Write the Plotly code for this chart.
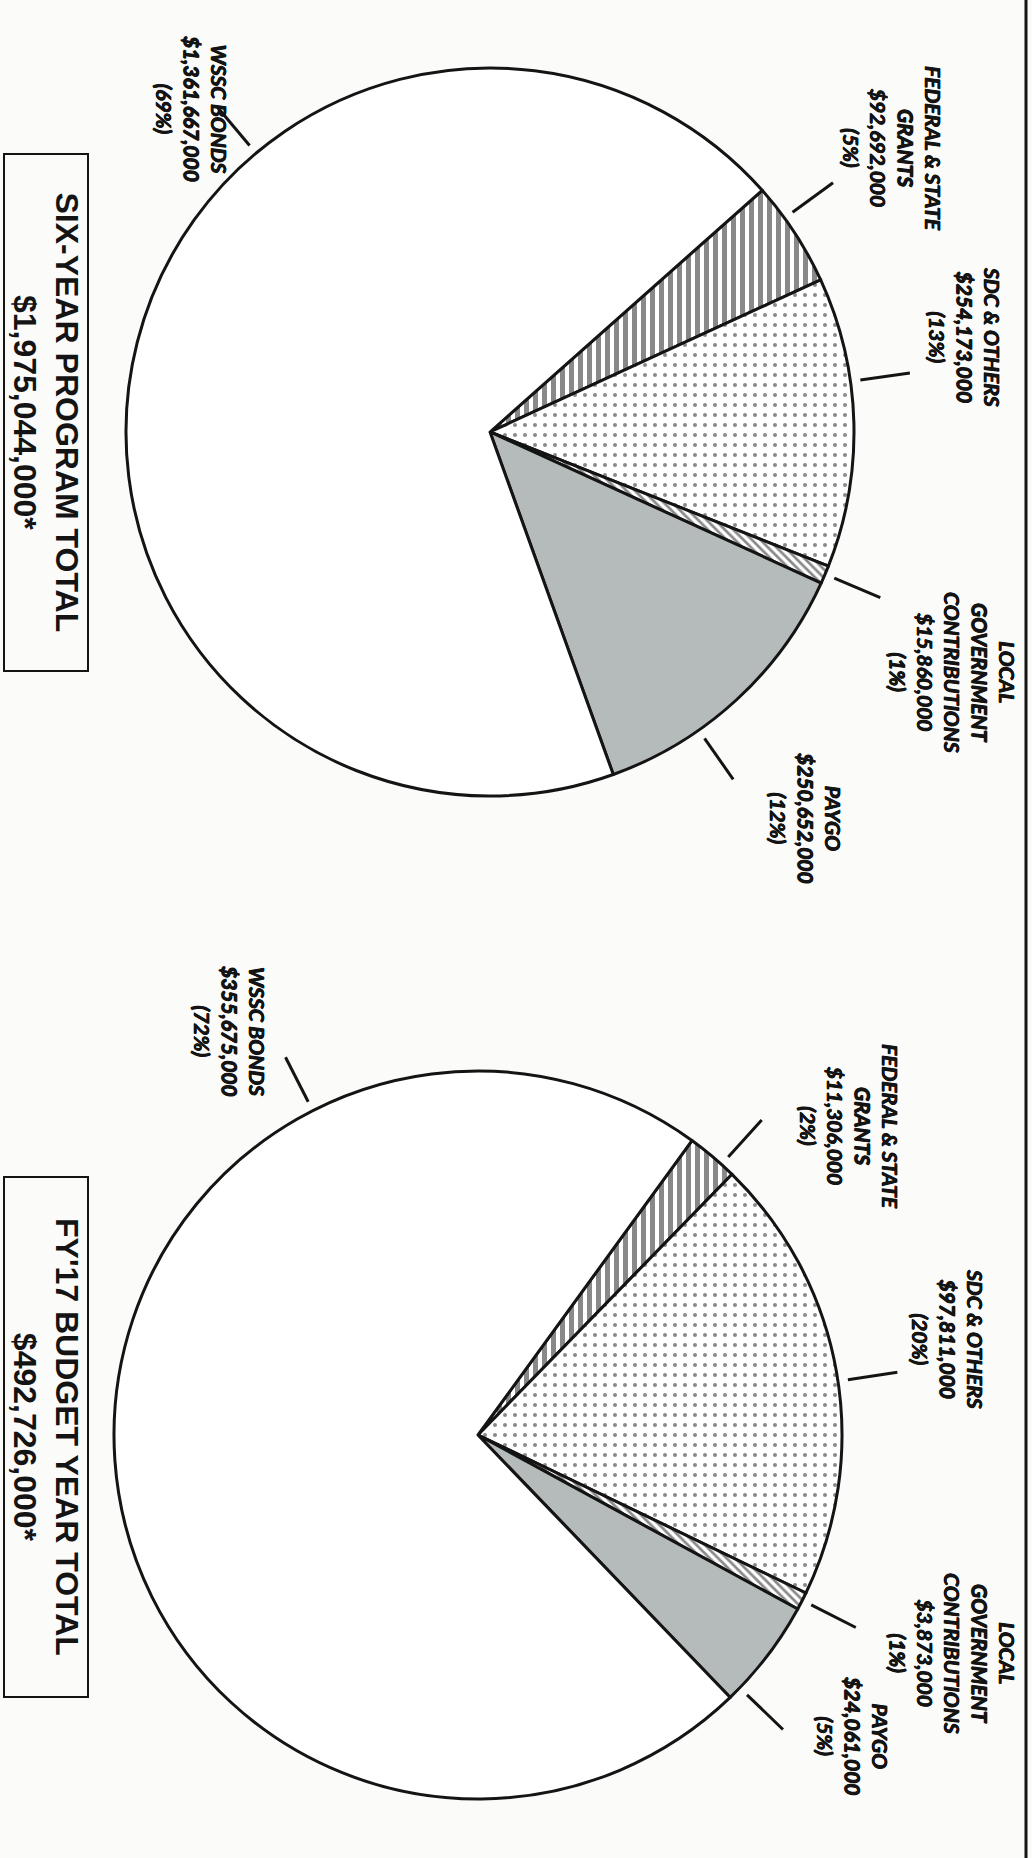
import math
import plotly.graph_objects as go

W, H = 1032, 1858

# Funding sources, listed clockwise starting with the grants wedge
sources = ["FEDERAL & STATE GRANTS", "SDC & OTHERS", "LOCAL GOVERNMENT CONTRIBUTIONS", "PAYGO", "WSSC BONDS"]
source_lines = ["FEDERAL & STATE<br>GRANTS", "SDC & OTHERS", "LOCAL<br>GOVERNMENT<br>CONTRIBUTIONS", "PAYGO", "WSSC BONDS"]

six_year_values = [92692000, 254173000, 15860000, 250652000, 1361667000]
six_year_pct = ["5%", "13%", "1%", "12%", "69%"]
six_year_title = "SIX-YEAR PROGRAM TOTAL"
six_year_total = "$1,975,044,000*"

fy17_values = [11306000, 97811000, 3873000, 24061000, 355675000]
fy17_pct = ["2%", "20%", "1%", "5%", "72%"]
fy17_title = "FY'17 BUDGET YEAR TOTAL"
fy17_total = "$492,726,000*"

# Slice styling
fills = ["white", "white", "white", "#b5baba", "white"]
pattern_shapes = ["|", ".", "\\", "", ""]
pattern_sizes = [9, 10, 6, 8, 8]
pattern_solidity = [0.55, 0.13, 0.45, 0.3, 0.3]

INK = "#141414"
LABEL_FONT = dict(family="Lato, Roboto, sans-serif",
                  size=21, color=INK, weight="bold", style="italic",
                  shadow="0.5px 0 0 #141414, -0.5px 0 0 #141414, 0 0.5px 0 #141414")
TITLE_FONT = dict(family="Liberation Sans, Arial, sans-serif", size=32, color=INK, weight="bold")


def px(x):
    return x / W


def py(y):
    return 1 - y / H


# Page layout for each pie (pixel geometry of the rotated page)
charts = [
    dict(values=six_year_values, pct=six_year_pct, title=six_year_title, total=six_year_total,
         cx=490, cy=432, r=364, start=41.6,
         leader_angles=[36, 8, -23, -55, 130],
         label_xy=[(893, 148), (965, 337), (953, 672), (806, 818), (192, 109)],
         box=(4, 154, 88, 671)),
    dict(values=fy17_values, pct=fy17_pct, title=fy17_title, total=fy17_total,
         cx=478, cy=1435, r=364, start=54.0,
         leader_angles=[48, 8.5, -27, -44, 117],
         label_xy=[(850, 1126), (948, 1339), (953, 1653), (853, 1736), (230, 1031)],
         box=(4, 1177, 88, 1697)),
]

fig = go.Figure()
shapes = []
annotations = []

for ch in charts:
    cx, cy, r = ch["cx"], ch["cy"], ch["r"]
    fig.add_trace(go.Pie(
        labels=sources,
        values=ch["values"],
        sort=False,
        direction="clockwise",
        rotation=90 - ch["start"],
        domain=dict(x=[px(cx - r), px(cx + r)], y=[py(cy + r), py(cy - r)]),
        marker=dict(
            colors=fills,
            line=dict(color=INK, width=3),
            pattern=dict(shape=pattern_shapes, fgcolor=INK, size=pattern_sizes,
                         solidity=pattern_solidity, fillmode="overlay"),
        ),
        textinfo="none",
        hoverinfo="label+value",
        showlegend=False,
    ))

    # leader ticks just outside the rim
    for ang in ch["leader_angles"]:
        a = math.radians(ang)
        r0, r1 = r + 10, r + 60
        shapes.append(dict(type="line", xref="paper", yref="paper",
                           x0=px(cx + r0 * math.cos(a)), y0=py(cy - r0 * math.sin(a)),
                           x1=px(cx + r1 * math.cos(a)), y1=py(cy - r1 * math.sin(a)),
                           line=dict(color=INK, width=3)))

    # slice labels
    for name, val, pct, (lx, ly) in zip(source_lines, ch["values"], ch["pct"], ch["label_xy"]):
        annotations.append(dict(
            text=f"{name}<br>${val:,}<br>({pct})",
            x=px(lx), y=py(ly), xref="paper", yref="paper",
            xanchor="center", yanchor="middle", showarrow=False,
            textangle=90, align="center", font=LABEL_FONT,
        ))

    # boxed total
    x0, y0, x1, y1 = ch["box"]
    shapes.append(dict(type="rect", xref="paper", yref="paper",
                       x0=px(x0), x1=px(x1), y0=py(y1), y1=py(y0),
                       line=dict(color=INK, width=2)))
    annotations.append(dict(
        text=f"{ch['title']}<br>{ch['total']}",
        x=px((x0 + x1) / 2), y=py((y0 + y1) / 2), xref="paper", yref="paper",
        xanchor="center", yanchor="middle", showarrow=False,
        textangle=90, align="center", font=TITLE_FONT,
    ))

# rule along the page edge
shapes.append(dict(type="line", xref="paper", yref="paper",
                   x0=px(1026), x1=px(1026), y0=0, y1=1,
                   line=dict(color=INK, width=3)))

fig.update_layout(
    width=W, height=H,
    margin=dict(l=0, r=0, t=0, b=0),
    paper_bgcolor="#fbfbfa",
    plot_bgcolor="#fbfbfa",
    shapes=shapes,
    annotations=annotations,
)

fig.write_html("out.html")
